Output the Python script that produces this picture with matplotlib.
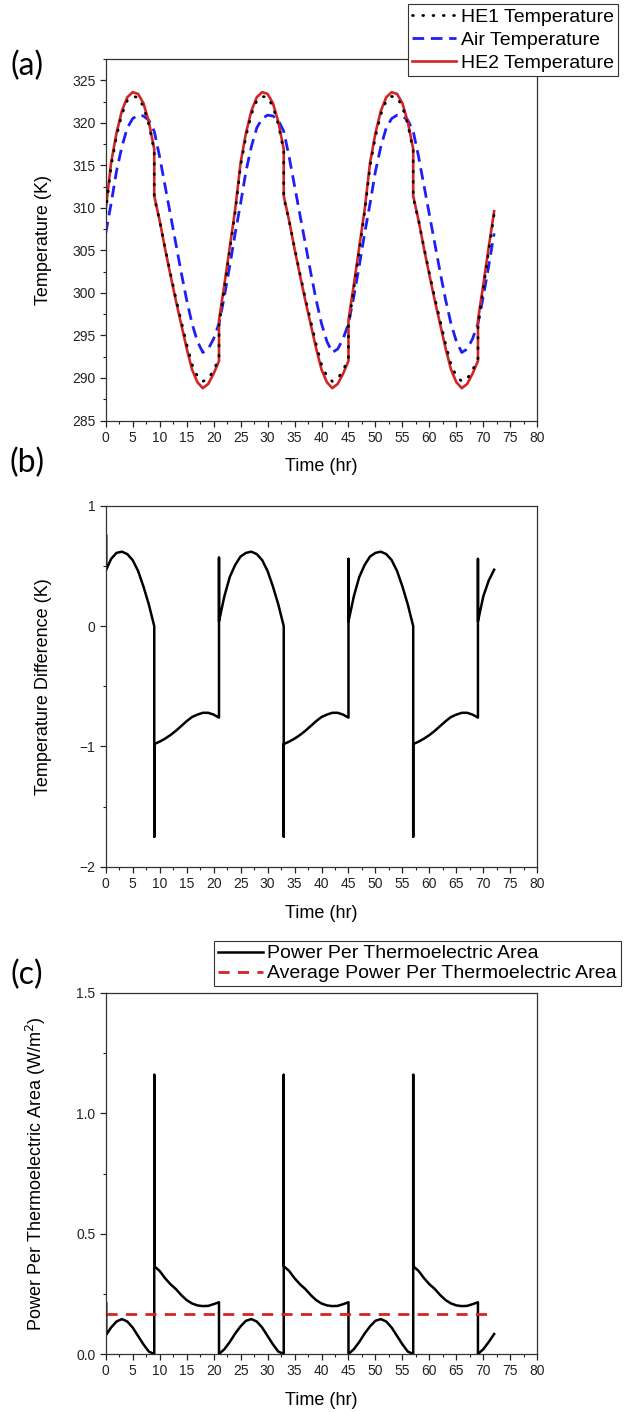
import matplotlib.pyplot as plt
from matplotlib.ticker import MultipleLocator

plt.rcParams['font.family'] = ['Liberation Sans', 'DejaVu Sans']

# ---- panel (a): temperatures (K) ----
time_a = [0, 1, 2, 3, 4, 5, 6, 7, 8, 9, 9, 10, 11, 12, 13, 14, 15, 16, 17, 18, 19, 20, 21, 21, 22, 23,
          24, 25, 26, 27, 28, 29, 30, 31, 32, 33, 33, 34, 35, 36, 37, 38, 39, 40, 41, 42, 43, 44, 45, 45, 46, 47,
          48, 49, 50, 51, 52, 53, 54, 55, 56, 57, 57, 58, 59, 60, 61, 62, 63, 64, 65, 66, 67, 68, 69, 69, 70, 71,
          72]
he1_temp = [309.5, 314.9, 318.4, 321.0, 322.6, 323.1, 323.0, 321.9, 319.8, 316.7, 311.2, 308.5, 305.3, 302.3,
            299.4, 296.7, 294.0, 291.6, 290.2, 289.6, 289.9, 290.9, 292.3, 296.2, 300.5, 305.0,
            309.5, 314.9, 318.4, 321.0, 322.6, 323.1, 323.0, 321.9, 319.8, 316.7, 311.2, 308.5, 305.3, 302.3,
            299.4, 296.7, 294.0, 291.6, 290.2, 289.6, 289.9, 290.9, 292.3, 296.2, 300.5, 305.0,
            309.5, 314.9, 318.4, 321.0, 322.6, 323.1, 323.0, 321.9, 319.8, 316.7, 311.2, 308.5, 305.3, 302.3,
            299.4, 296.7, 294.0, 291.6, 290.2, 289.6, 289.9, 290.9, 292.3, 296.2, 300.5, 305.0,
            309.3]
air_temp = [307.0, 310.5, 314.3, 317.2, 319.4, 320.5, 320.9, 320.8, 320.3, 319.0, 319.0, 316.0, 312.6, 309.2,
            305.8, 302.4, 299.2, 296.4, 294.3, 293.0, 293.4, 294.6, 296.4, 296.4, 299.6, 303.2,
            307.0, 310.5, 314.3, 317.2, 319.4, 320.5, 320.9, 320.8, 320.3, 319.0, 319.0, 316.0, 312.6, 309.2,
            305.8, 302.4, 299.2, 296.4, 294.3, 293.0, 293.4, 294.6, 296.4, 296.4, 299.6, 303.2,
            307.0, 310.5, 314.3, 317.2, 319.4, 320.5, 320.9, 320.8, 320.3, 319.0, 319.0, 316.0, 312.6, 309.2,
            305.8, 302.4, 299.2, 296.4, 294.3, 293.0, 293.4, 294.6, 296.4, 296.4, 299.6, 303.2,
            307.0]
he2_temp = [309.8, 315.3, 318.8, 321.4, 323.0, 323.6, 323.4, 322.3, 320.1, 316.9, 311.4, 308.5, 305.2, 302.1,
            299.1, 296.3, 293.5, 291.0, 289.5, 288.8, 289.3, 290.5, 292.0, 296.8, 301.0, 305.4,
            309.8, 315.3, 318.8, 321.4, 323.0, 323.6, 323.4, 322.3, 320.1, 316.9, 311.4, 308.5, 305.2, 302.1,
            299.1, 296.3, 293.5, 291.0, 289.5, 288.8, 289.3, 290.5, 292.0, 296.8, 301.0, 305.4,
            309.8, 315.3, 318.8, 321.4, 323.0, 323.6, 323.4, 322.3, 320.1, 316.9, 311.4, 308.5, 305.2, 302.1,
            299.1, 296.3, 293.5, 291.0, 289.5, 288.8, 289.3, 290.5, 292.0, 296.8, 301.0, 305.4,
            309.6]

# ---- panel (b): temperature difference (K) ----
time_b = [0.1, 0.1, 1, 2, 3, 4, 5, 6, 7, 8, 9, 9, 9, 10, 11, 12, 13, 14, 15, 16, 17, 18, 19, 20, 21, 21, 21,
          22, 23, 24, 25, 26, 27, 28, 29, 30, 31, 32, 33, 33, 33, 34, 35, 36, 37, 38, 39, 40, 41, 42, 43, 44,
          45, 45, 45, 46, 47, 48, 49, 50, 51, 52, 53, 54, 55, 56, 57, 57, 57, 58, 59, 60, 61, 62, 63, 64, 65,
          66, 67, 68, 69, 69, 69, 70, 71, 72]
temp_diff = [0.75, 0.47, 0.56, 0.61, 0.62, 0.60, 0.55, 0.46, 0.33, 0.18, 0.0, -1.75, -0.98,
             -0.96, -0.935, -0.905, -0.87, -0.83, -0.79, -0.755, -0.735, -0.72, -0.72, -0.735, -0.76, 0.57, 0.04,
             0.25, 0.41, 0.51, 0.58, 0.61, 0.62, 0.60, 0.55, 0.46, 0.33, 0.18, 0.0, -1.75, -0.98,
             -0.96, -0.935, -0.905, -0.87, -0.83, -0.79, -0.755, -0.735, -0.72, -0.72, -0.735, -0.76, 0.56, 0.04,
             0.25, 0.41, 0.51, 0.58, 0.61, 0.62, 0.60, 0.55, 0.46, 0.33, 0.18, 0.0, -1.75, -0.98,
             -0.96, -0.935, -0.905, -0.87, -0.83, -0.79, -0.755, -0.735, -0.72, -0.72, -0.735, -0.76, 0.56, 0.04,
             0.25, 0.38, 0.47]

# ---- panel (c): power per thermoelectric area (W/m2) ----
time_c = [0.1, 0.1, 1, 2, 3, 4, 5, 6, 7, 8, 9, 9, 9, 10, 11, 12, 13, 14, 15, 16, 17, 18, 19, 20, 21, 21,
          22, 23, 24, 25, 26, 27, 28, 29, 30, 31, 32, 33, 33, 33, 34, 35, 36, 37, 38, 39, 40, 41, 42, 43, 44,
          45, 45, 46, 47, 48, 49, 50, 51, 52, 53, 54, 55, 56, 57, 57, 57, 58, 59, 60, 61, 62, 63, 64, 65,
          66, 67, 68, 69, 69, 70, 71, 72]
power = [0.21, 0.08, 0.11, 0.135, 0.145, 0.135, 0.11, 0.075, 0.04, 0.01, 0.0, 1.16, 0.365,
         0.345, 0.315, 0.29, 0.27, 0.245, 0.224, 0.21, 0.202, 0.199, 0.2, 0.207, 0.215, 0.0,
         0.02, 0.05, 0.085, 0.115, 0.138, 0.145, 0.135, 0.11, 0.075, 0.04, 0.01, 0.0, 1.16, 0.365,
         0.345, 0.315, 0.29, 0.27, 0.245, 0.224, 0.21, 0.202, 0.199, 0.2, 0.207, 0.215, 0.0,
         0.02, 0.05, 0.085, 0.115, 0.138, 0.145, 0.135, 0.11, 0.075, 0.04, 0.01, 0.0, 1.16, 0.365,
         0.345, 0.315, 0.29, 0.27, 0.245, 0.224, 0.21, 0.202, 0.199, 0.2, 0.207, 0.215, 0.0,
         0.02, 0.05, 0.083]
avg_time = [0, 72]
avg_power = [0.165, 0.165]

RED = '#d42424'
BLUE = '#1f1ff5'

fig = plt.figure(figsize=(6.28, 14.12), dpi=100)
W, H = 628.0, 1412.0


def make_axes(top_px, bottom_px):
    left, right = 105.7, 537.3
    return fig.add_axes([left / W, 1 - bottom_px / H, (right - left) / W, (bottom_px - top_px) / H])


def style(ax, ymajor, yminor):
    ax.set_xlim(0, 80)
    ax.xaxis.set_major_locator(MultipleLocator(5))
    ax.xaxis.set_minor_locator(MultipleLocator(2.5))
    ax.yaxis.set_major_locator(MultipleLocator(ymajor))
    ax.yaxis.set_minor_locator(MultipleLocator(yminor))
    ax.tick_params(which='major', direction='out', length=4, width=0.9, labelsize=10,
                   colors='#222222', top=False, right=False)
    ax.tick_params(which='minor', direction='out', length=2.5, width=0.8, top=False, right=False,
                   colors='#222222')
    for s in ax.spines.values():
        s.set_linewidth(0.9)
        s.set_color('#333333')
    ax.set_xlabel('Time (hr)', fontsize=13)
    ax.xaxis.set_label_coords(0.5, -0.105)


def legend(handles, labels, anchor, spacing):
    lg = fig.legend(handles, labels, loc='upper right', bbox_to_anchor=anchor, fontsize=14,
                    frameon=True, fancybox=False, edgecolor='#333333', framealpha=1,
                    handlelength=2.3, handletextpad=0.25, labelspacing=spacing, borderpad=0.2,
                    borderaxespad=0)
    lg.get_frame().set_linewidth(0.8)


# (a)
ax1 = make_axes(59, 420.5)
ax1.plot(time_a, he1_temp, color='black', lw=2.0, linestyle=(0, (0.3, 3.4)),
         dash_capstyle='round', label='HE1 Temperature', zorder=3)
ax1.plot(time_a, air_temp, color=BLUE, lw=2.0, linestyle=(0, (4.2, 2.4)), label='Air Temperature')
ax1.plot(time_a, he2_temp, color=RED, lw=1.9, label='HE2 Temperature', zorder=2)
ax1.set_ylim(285, 327.5)
style(ax1, 5, 2.5)
ax1.set_ylabel('Temperature (K)', fontsize=13)
ax1.yaxis.set_label_coords(-0.124, 0.5)
h, l = ax1.get_legend_handles_labels()
legend(h, l, (618 / W, 1 - 4 / H), 0.28)

# (b)
ax2 = make_axes(506, 866.7)
ax2.plot(time_b, temp_diff, color='black', lw=1.8)
ax2.set_ylim(-2, 1)
style(ax2, 1, 0.5)
ax2.set_ylabel('Temperature Difference (K)', fontsize=13)
ax2.yaxis.set_label_coords(-0.124, 0.5)

# (c)
ax3 = make_axes(993, 1354)
ax3.plot(time_c, power, color='black', lw=1.8, label='Power Per Thermoelectric Area')
ax3.plot(avg_time, avg_power, color=RED, lw=2.0, linestyle=(0, (4, 3)),
         label='Average Power Per Thermoelectric Area')
ax3.set_ylim(0, 1.5)
style(ax3, 0.5, 0.25)
ax3.yaxis.set_major_formatter(plt.FormatStrFormatter('%.1f'))
ax3.set_ylabel('Power Per Thermoelectric Area (W/m$^2$)', fontsize=13)
ax3.yaxis.set_label_coords(-0.134, 0.5)
h, l = ax3.get_legend_handles_labels()
legend(h, l, (621 / W, 1 - 941 / H), 0.12)

# panel letters
for txt, ypx in [('(a)', 66), ('(b)', 463), ('(c)', 975)]:
    fig.text(27 / W, 1 - ypx / H, txt, fontsize=23, family=['Lato', 'DejaVu Sans'],
             ha='center', va='center')

fig.savefig('out.png', dpi=100)
